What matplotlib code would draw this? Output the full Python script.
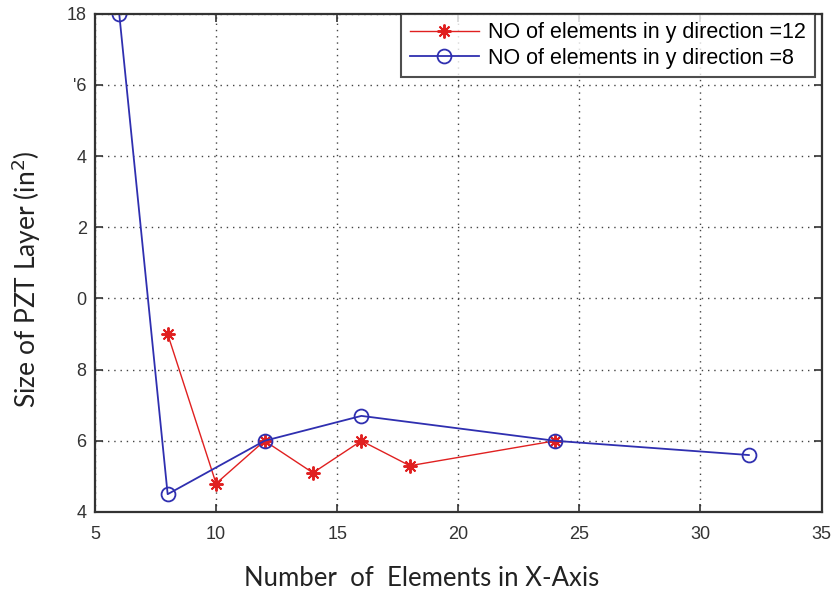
import matplotlib
matplotlib.use("Agg")
import matplotlib.pyplot as plt
from matplotlib.ticker import FixedLocator

# Number of elements along X for each mesh
x_ny12 = [8, 10, 12, 14, 16, 18, 24]
size_ny12 = [9.0, 4.8, 6.0, 5.1, 6.0, 5.3, 6.0]

x_ny8 = [6, 8, 12, 16, 24, 32]
size_ny8 = [18.0, 4.5, 6.0, 6.7, 6.0, 5.6]

label_ny12 = "NO of elements in y direction =12"
label_ny8 = "NO of elements in y direction =8"

x_ticks = [5, 10, 15, 20, 25, 30, 35]
y_ticks = [4, 6, 8, 10, 12, 14, 16, 18]
y_tick_labels = ["4", "6", "8", "0", "2", "4", "'6", "18"]

fig = plt.figure(figsize=(8.37, 5.95), dpi=100)
ax = fig.add_axes([0.1135, 0.1395, 0.868, 0.8375])

ax.plot(x_ny12, size_ny12, color="#e02020", lw=1.0, marker=(8, 2, 0),
        markersize=10, markeredgewidth=1.4, label=label_ny12)
ax.plot(x_ny8, size_ny8, color="#2f2fb0", lw=1.3, marker="o",
        markersize=10, markerfacecolor="none", markeredgewidth=1.3,
        label=label_ny8)

ax.set_xlim(5, 35)
ax.set_ylim(4, 18)
ax.xaxis.set_major_locator(FixedLocator(x_ticks))
ax.yaxis.set_major_locator(FixedLocator(y_ticks))
ax.set_xticklabels([str(v) for v in x_ticks], fontfamily="Liberation Sans",
                   fontsize=13, color="#333333")
ax.set_yticklabels(y_tick_labels, fontfamily="Liberation Sans",
                   fontsize=13, color="#333333")

ax.tick_params(direction="in", length=6, width=1.2, top=True, right=True,
               colors="#333333", pad=6)
ax.tick_params(axis="x", pad=10)
for sp in ax.spines.values():
    sp.set_linewidth(1.6)
    sp.set_color("#333333")

ax.grid(True, linestyle=(0, (1, 3.5)), color="#444444", linewidth=1.0)

ax.set_xlabel("Number  of  Elements in X-Axis", fontfamily="Lato",
              fontsize=18.5, color="#222222")
ax.set_ylabel("Size of PZT Layer (in$^2$)", fontfamily="Lato",
              fontsize=19, color="#222222")
ax.xaxis.set_label_coords(0.449, -0.108)
ax.yaxis.set_label_coords(-0.072, 0.467)

leg = ax.legend(loc="upper right", bbox_to_anchor=(0.991, 1.0),
                prop={"family": "Liberation Sans", "size": 15.5},
                frameon=True, fancybox=False, borderpad=0.4,
                handlelength=3.2, handletextpad=0.45, labelspacing=0.2,
                borderaxespad=0.0)
leg.get_frame().set_edgecolor("#222222")
leg.get_frame().set_linewidth(1.5)

fig.savefig("out.png", dpi=100)
